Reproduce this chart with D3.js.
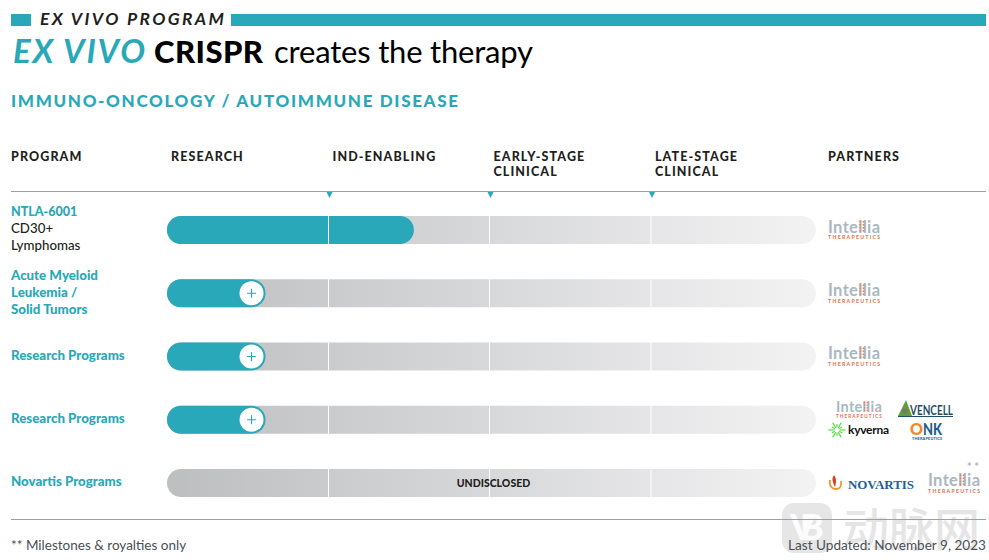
<!DOCTYPE html>
<html>
<head>
<meta charset="utf-8">
<script src="https://cdn.jsdelivr.net/npm/d3@7"></script>
<style>
html, body { margin: 0; padding: 0; background: #fff; }
svg { display: block; }
text { font-family: Lato, "Open Sans", sans-serif; }
</style>
</head>
<body>
<div id="chart"></div>
<script>
// chart values
var stageTicks = [0, 1, 2, 3, 4];
var stageHeaders = [["RESEARCH"], ["IND-ENABLING"], ["EARLY-STAGE", "CLINICAL"], ["LATE-STAGE", "CLINICAL"]];
var programLabels = [["NTLA-6001", "CD30+", "Lymphomas"], ["Acute Myeloid", "Leukemia /", "Solid Tumors"], ["Research Programs"], ["Research Programs"], ["Novartis Programs"]];
var programProgress = [1.53, 0.61, 0.61, 0.61, 0];
var programHasPlus = [false, true, true, true, false];
var programNotes = ["", "", "", "", "UNDISCLOSED"];

var teal = "#28a8b8";
var width = 989, height = 560;

var svg = d3.select("#chart").append("svg")
    .attr("width", width)
    .attr("height", height);

// stage positions are not quite evenly spaced in the picture
var x = d3.scaleLinear().domain(stageTicks).range([167, 328.5, 489.5, 651, 816]);
var y = d3.scalePoint().domain(d3.range(programLabels.length)).range([230, 483]);
var barH = 28;

var defs = svg.append("defs");
var grad = defs.append("linearGradient").attr("id", "track")
    .attr("gradientUnits", "userSpaceOnUse")
    .attr("x1", x(0)).attr("x2", x(4)).attr("y1", 0).attr("y2", 0);
grad.append("stop").attr("offset", "0%").attr("stop-color", "#bdbec0");
grad.append("stop").attr("offset", "100%").attr("stop-color", "#f3f3f4");

// top band
svg.append("rect").attr("x", 11).attr("y", 14).attr("width", 20).attr("height", 12).attr("fill", teal);
svg.append("rect").attr("x", 231).attr("y", 14).attr("width", 755).attr("height", 12).attr("fill", teal);
svg.append("text").attr("x", 40).attr("y", 24.5)
    .attr("font-size", 17.5).attr("font-weight", 700).attr("font-style", "italic")
    .attr("fill", "#231f20").attr("textLength", 184)
    .text("EX VIVO PROGRAM");

// title
svg.append("text").attr("x", 13).attr("y", 63).attr("font-size", 33)
    .attr("fill", teal).attr("font-weight", 700).attr("font-style", "italic")
    .attr("textLength", 132).text("EX VIVO");
svg.append("text").attr("x", 154).attr("y", 63).attr("font-size", 31)
    .attr("fill", "#000").attr("font-weight", 900).attr("textLength", 109).text("CRISPR");
svg.append("text").attr("x", 274).attr("y", 63).attr("font-size", 31)
    .attr("fill", "#000").attr("font-weight", 400).attr("textLength", 259).text("creates the therapy");

svg.append("text").attr("x", 11).attr("y", 107)
    .attr("font-size", 17).attr("font-weight", 900).attr("fill", teal).attr("textLength", 447)
    .text("IMMUNO-ONCOLOGY / AUTOIMMUNE DISEASE");

// column headers
function headerText(px, lines) {
    var t = svg.append("text").attr("font-size", 12.5).attr("font-weight", 900)
        .attr("letter-spacing", 1.1).attr("fill", "#231f20");
    lines.forEach(function (line, i) {
        t.append("tspan").attr("x", px).attr("y", 161 + i * 15).text(line);
    });
}
headerText(11, ["PROGRAM"]);
stageHeaders.forEach(function (lines, i) {
    headerText(x(i) + 4, lines);
});
headerText(828, ["PARTNERS"]);

// rules
svg.append("line").attr("x1", 11).attr("x2", 986).attr("y1", 191.5).attr("y2", 191.5)
    .attr("stroke", "#9aa1a6").attr("stroke-width", 1);

// stage markers
svg.selectAll("path.marker").data(stageTicks.slice(1, 4)).enter().append("path")
    .attr("class", "marker")
    .attr("d", function (d) {
        var px = x(d) + 1;
        return d3.line()([[px - 3, 192], [px + 3, 192], [px, 198]]) + "Z";
    })
    .attr("fill", teal);

// bars
programLabels.forEach(function (d, i) {
    svg.append("rect")
        .attr("x", x(0)).attr("width", x(4) - x(0))
        .attr("y", y(i) - barH / 2)
        .attr("height", barH).attr("rx", barH / 2)
        .attr("fill", "url(#track)");
    if (programProgress[i] > 0) {
        svg.append("rect")
            .attr("x", x(0))
            .attr("width", x(programProgress[i]) - x(0))
            .attr("y", y(i) - barH / 2)
            .attr("height", barH).attr("rx", barH / 2)
            .attr("fill", teal);
    }
    // white stage separators over the bars
    stageTicks.slice(1, 4).forEach(function (s) {
        svg.append("line").attr("x1", x(s)).attr("x2", x(s))
            .attr("y1", y(i) - barH / 2).attr("y2", y(i) + barH / 2)
            .attr("stroke", "#fff").attr("stroke-width", 1);
    });
});

// plus buttons
programHasPlus.forEach(function (has, i) {
    if (!has) return;
    var cx = x(programProgress[i]) - 14, cy = y(i);
    svg.append("circle").attr("cx", cx).attr("cy", cy).attr("r", 12)
        .attr("fill", "#fff");
    svg.append("path")
        .attr("d", "M" + (cx - 4.5) + "," + cy + "H" + (cx + 4.5) + "M" + cx + "," + (cy - 4.5) + "V" + (cy + 4.5))
        .attr("stroke", teal).attr("stroke-width", 1.2).attr("fill", "none");
});

// bar notes
programNotes.forEach(function (note, i) {
    if (!note) return;
    svg.append("text").attr("x", x(2) + 4).attr("y", y(i) + 3.5).attr("text-anchor", "middle")
        .attr("font-size", 10.5).attr("font-weight", 900).attr("fill", "#231f20")
        .text(note);
});

// program labels
var labelTop = [216, 280, 360, 423, 486];
programLabels.forEach(function (lines, i) {
    var t = svg.append("text").attr("font-size", 13.3);
    lines.forEach(function (line, j) {
        var isName = i > 0 || j === 0;
        var s = t.append("tspan").attr("x", 11).attr("y", labelTop[i] + j * 17)
            .attr("fill", isName ? teal : "#231f20")
            .attr("font-weight", isName ? 900 : 500)
            .text(line);
        if (i === 0 && j === 0) s.attr("font-size", 12.5);
    });
});

// partner logos
function intellia(px, py, scale) {
    var g = svg.append("g").attr("transform", "translate(" + px + "," + py + ") scale(" + scale + ")");
    g.append("text").attr("x", 0).attr("y", 0).attr("font-size", 16.5).attr("font-weight", 700)
        .attr("fill", "#a9b8c0").attr("textLength", 52).text("Intellia");
    // the orange dots in the two l's
    d3.range(4).forEach(function (k) {
        g.append("rect").attr("x", 31.5).attr("y", -11.5 + k * 3).attr("width", 1.6).attr("height", 1.6).attr("fill", "#e8805c");
        g.append("rect").attr("x", 34.7).attr("y", -11.5 + k * 3).attr("width", 1.6).attr("height", 1.6).attr("fill", "#e8805c");
    });
    g.append("text").attr("x", 0).attr("y", 6.5).attr("font-size", 5.2).attr("font-weight", 900)
        .attr("fill", "#e5795a").attr("textLength", 52).text("THERAPEUTICS");
}
intellia(828, 232.5, 1);
intellia(828, 296, 1);
intellia(828, 359, 1);
intellia(836, 412, 0.88);
intellia(928, 486, 1);

// AvenCell
svg.append("path").attr("d", "M898,416L906,400L912,416Z").attr("fill", "#5f9e3a");
svg.append("circle").attr("cx", 905).attr("cy", 411).attr("r", 2.6).attr("fill", "#777");
svg.append("text").attr("x", 910).attr("y", 415).attr("font-size", 13).attr("font-weight", 700)
    .attr("fill", "#1f4f66").attr("textLength", 43).attr("lengthAdjust", "spacingAndGlyphs").text("VENCELL");
svg.append("line").attr("x1", 898).attr("x2", 953).attr("y1", 416.5).attr("y2", 416.5).attr("stroke", "#1f4f66");

// Kyverna burst
d3.range(12).forEach(function (k) {
    var a = k * Math.PI / 6, r = k % 2 ? 6 : 8.5;
    svg.append("line")
        .attr("x1", 837 + 2.5 * Math.cos(a)).attr("y1", 430 + 2.5 * Math.sin(a))
        .attr("x2", 837 + r * Math.cos(a)).attr("y2", 430 + r * Math.sin(a))
        .attr("stroke", "#5fdc4a").attr("stroke-width", 1.2);
});
svg.append("text").attr("x", 848).attr("y", 434).attr("font-size", 12).attr("font-weight", 700)
    .attr("fill", "#111").attr("textLength", 41).text("kyverna");

// ONK
svg.append("text").attr("x", 910).attr("y", 435).attr("font-size", 16.5).attr("font-weight", 900)
    .attr("fill", "#f08a24").attr("textLength", 13).attr("lengthAdjust", "spacingAndGlyphs").text("O");
svg.append("text").attr("x", 923).attr("y", 435).attr("font-size", 16.5).attr("font-weight", 900)
    .attr("fill", "#1f5f8a").attr("textLength", 19).attr("lengthAdjust", "spacingAndGlyphs").text("NK");
svg.append("text").attr("x", 912).attr("y", 440).attr("font-size", 3.8).attr("font-weight", 900)
    .attr("fill", "#1f5f8a").attr("textLength", 30).text("THERAPEUTICS");

// Novartis flame
svg.append("path").attr("d", "M830,480C829,486 832,489 836,489C840,489 842,486 841,481")
    .attr("fill", "none").attr("stroke", "#f0952a").attr("stroke-width", 1.8);
svg.append("path").attr("d", "M834,475C831,479 833,483 835,487C836,483 837,479 834,475Z").attr("fill", "#d8402a");
// style, not attr: the css rule on text would beat the attribute
svg.append("text").attr("x", 848).attr("y", 489).attr("font-size", 13)
    .style("font-family", "'Liberation Serif'")
    .attr("font-weight", 700).attr("fill", "#1f5f95").attr("textLength", 66).text("NOVARTIS");

svg.append("text").attr("x", 967).attr("y", 471).attr("font-size", 11).attr("font-weight", 700)
    .attr("fill", "#a9b8c0").attr("textLength", 12).text("**");

// watermark
svg.append("rect").attr("x", 782).attr("y", 503).attr("width", 50).attr("height", 50).attr("rx", 12)
    .attr("fill", "#9a9a9a").attr("opacity", 0.25);
svg.append("text").attr("x", 807).attr("y", 540).attr("text-anchor", "middle").attr("font-size", 36)
    .attr("font-weight", 900).attr("fill", "#fff").attr("opacity", 0.9).attr("textLength", 34).text("VB");
svg.append("text").attr("x", 843).attr("y", 546)
    .style("font-family", "'Noto Sans CJK SC'")
    .attr("font-size", 46).attr("font-weight", 500).attr("textLength", 137)
    .attr("fill", "#9a9a9a").attr("opacity", 0.25).text("动脉网");

// bottom rule sits over the watermark
svg.append("line").attr("x1", 11).attr("x2", 986).attr("y1", 519.5).attr("y2", 519.5)
    .attr("stroke", "#9aa1a6").attr("stroke-width", 1);

// footer
svg.append("text").attr("x", 11).attr("y", 550).attr("font-size", 13.5).attr("fill", "#4a4f55").text("** Milestones & royalties only");
svg.append("text").attr("x", 986).attr("y", 550).attr("text-anchor", "end").attr("font-size", 13.6).attr("fill", "#4a4f55").text("Last Updated: November 9, 2023");
</script>
</body>
</html>
